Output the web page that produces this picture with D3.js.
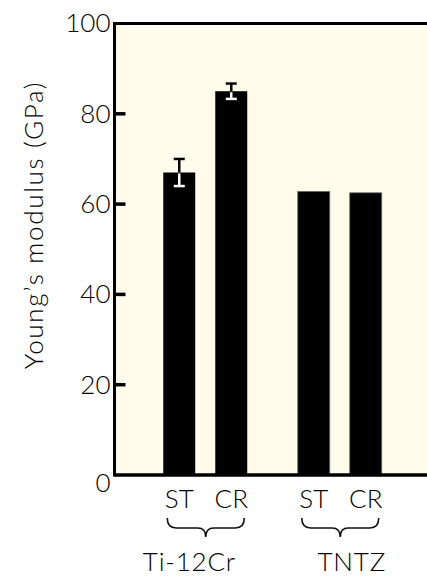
<!DOCTYPE html>
<html>
<head>
<meta charset="utf-8">
<script src="https://cdn.jsdelivr.net/npm/d3@7"></script>
<style>
  body { margin: 0; background: #fff; }
  text { font-family: Lato, "Open Sans", sans-serif; font-weight: 300; fill: #000; }
</style>
</head>
<body>
<div id="chart"></div>
<script>
// data
var groups = ["Ti-12Cr", "TNTZ"];
var conditions = ["ST", "CR"];
var modulus = [67, 85, 62.8, 62.5];
var errors = [3, 1.7, 0, 0];
var yTicks = [0, 20, 40, 60, 80, 100];

var svgWidth = 427;
var svgHeight = 577;
var margin = { top: 23.5, right: -4, bottom: 102, left: 114.5 };
var width = svgWidth - margin.left - margin.right;
var height = svgHeight - margin.top - margin.bottom;

var svg = d3.select("#chart")
    .append("svg")
    .attr("width", svgWidth)
    .attr("height", svgHeight);

var chartGroup = svg.append("g")
    .attr("transform", `translate(${margin.left}, ${margin.top})`);

var rows = [];
groups.forEach(function (g, i) {
    conditions.forEach(function (c, j) {
        var k = i * conditions.length + j;
        rows.push({ group: g, cond: c, value: modulus[k], err: errors[k] });
    });
});

// scales
var yScale = d3.scaleLinear().domain([0, 100]).range([height, 0]);
var xGroup = d3.scaleBand().domain(groups).range([138 - margin.left, 407 - margin.left]);
var xCond = d3.scaleBand().domain(conditions).range([0, xGroup.bandwidth()])
    .paddingInner(0.385).paddingOuter(0.486);
var xPos = d => xGroup(d.group) + xCond(d.cond);

// plot background
chartGroup.append("rect")
    .attr("x", 0).attr("y", 0)
    .attr("width", width).attr("height", height)
    .attr("fill", "#fffcec");

// bars
chartGroup.selectAll(".bar")
    .data(rows)
    .enter()
    .append("rect")
    .attr("class", "bar")
    .attr("x", xPos)
    .attr("y", d => yScale(d.value))
    .attr("width", xCond.bandwidth())
    .attr("height", d => yScale(0) - yScale(d.value))
    .attr("fill", "#000")
    .attr("stroke", d => d.group === "TNTZ" ? "#666" : "none")
    .attr("stroke-width", 0.8);

// error bars: black above the bar, white inside it
var eb = rows.filter(d => d.err > 0);
var capW = 5.5;
eb.forEach(function (d) {
    var cx = xPos(d) + xCond.bandwidth() / 2;
    var top = yScale(d.value + d.err), mid = yScale(d.value), bot = yScale(d.value - d.err);
    chartGroup.append("line").attr("x1", cx).attr("x2", cx).attr("y1", top).attr("y2", mid)
        .attr("stroke", "#000").attr("stroke-width", 2.5);
    chartGroup.append("line").attr("x1", cx - capW).attr("x2", cx + capW).attr("y1", top).attr("y2", top)
        .attr("stroke", "#000").attr("stroke-width", 2.5);
    chartGroup.append("line").attr("x1", cx).attr("x2", cx).attr("y1", mid + 1).attr("y2", bot)
        .attr("stroke", "#fff").attr("stroke-width", 2.5);
    chartGroup.append("line").attr("x1", cx - capW).attr("x2", cx + capW).attr("y1", bot).attr("y2", bot)
        .attr("stroke", "#fff").attr("stroke-width", 2.5);
});

// y axis with inward ticks
var leftAxis = d3.axisLeft(yScale).tickValues(yTicks).tickSize(0).tickPadding(4);
var yAxisG = chartGroup.append("g").call(leftAxis);
yAxisG.select(".domain").remove();
yAxisG.selectAll("text")
    .attr("font-size", "26px")
    .style("font-family", "Lato, sans-serif")
    .style("font-weight", 300)
    .attr("fill", "#000");
yAxisG.selectAll(".tick").filter(d => d === 0).select("text").attr("dy", "0.62em");

chartGroup.selectAll(".ytick")
    .data(yTicks.filter(d => d > 0 && d < 100))
    .enter()
    .append("line")
    .attr("x1", 0).attr("x2", 11)
    .attr("y1", d => yScale(d)).attr("y2", d => yScale(d))
    .attr("stroke", "#000").attr("stroke-width", 3.5);

// frame lines: left, top, bottom
chartGroup.append("line").attr("x1", 0).attr("x2", 0).attr("y1", -1.5).attr("y2", height + 1.5)
    .attr("stroke", "#000").attr("stroke-width", 3);
chartGroup.append("line").attr("x1", 0).attr("x2", width).attr("y1", 0).attr("y2", 0)
    .attr("stroke", "#000").attr("stroke-width", 3);
chartGroup.append("line").attr("x1", 0).attr("x2", width).attr("y1", height).attr("y2", height)
    .attr("stroke", "#000").attr("stroke-width", 3.5);

// condition labels under bars
chartGroup.selectAll(".cond")
    .data(rows)
    .enter()
    .append("text")
    .attr("class", "cond")
    .attr("x", d => xPos(d) + xCond.bandwidth() / 2)
    .attr("y", height + 33)
    .attr("text-anchor", "middle")
    .attr("font-size", "26px")
    .text(d => d.cond);

// curly braces under each group
groups.forEach(function (g) {
    var x0 = xGroup(g) + xCond("ST") + xCond.bandwidth() / 2 - 12;
    var x1 = xGroup(g) + xCond("CR") + xCond.bandwidth() / 2 + 13;
    var xm = (x0 + x1) / 2;
    var y0 = height + 43, y1 = height + 53, y2 = height + 62;
    var p = `M${x0},${y0} Q${x0},${y1} ${x0 + 9},${y1} L${xm - 8},${y1} Q${xm},${y1} ${xm},${y2}` +
            ` Q${xm},${y1} ${xm + 8},${y1} L${x1 - 9},${y1} Q${x1},${y1} ${x1},${y0}`;
    chartGroup.append("path").attr("d", p)
        .attr("fill", "none").attr("stroke", "#111").attr("stroke-width", 1.6);
});

// group labels (offset from brace centres as in the figure)
var labelShift = [-16, 12];
chartGroup.selectAll(".grp")
    .data(groups)
    .enter()
    .append("text")
    .attr("class", "grp")
    .attr("x", (d, i) => xGroup(d) + xGroup.bandwidth() / 2 + labelShift[i])
    .attr("y", height + 96)
    .attr("text-anchor", "middle")
    .attr("font-size", "26px")
    .style("letter-spacing", "0.8px")
    .text(d => d);

// y axis title
svg.append("text")
    .attr("transform", "rotate(-90)")
    .attr("x", -225)
    .attr("y", 43)
    .attr("text-anchor", "middle")
    .attr("font-size", "26px")
    .style("letter-spacing", "1.7px")
    .text("Young\u2019s modulus (GPa)");
</script>
</body>
</html>
